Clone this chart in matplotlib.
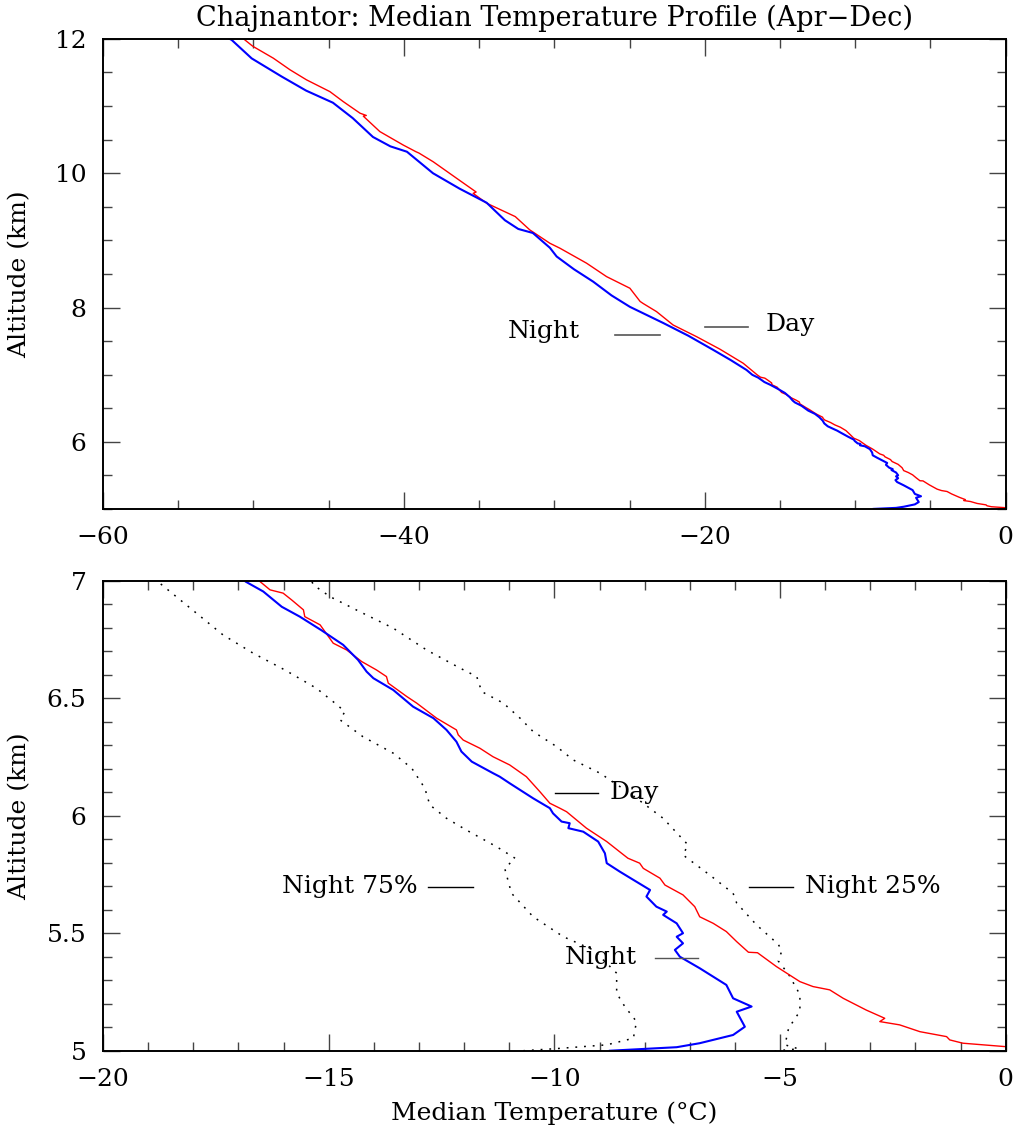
import numpy as np
import matplotlib
matplotlib.use("Agg")
import matplotlib.pyplot as plt
from matplotlib.ticker import MultipleLocator, FormatStrFormatter

# Median night profile (temperature in C, altitude in km)
night_temp = [-8.77, -7.29, -6.78, -6.04, -5.78, -5.96, -5.63, -6.04, -6.19, -6.78,
              -7.22, -7.33, -7.15, -7.29, -7.15, -7.29, -7.59, -7.51, -7.74, -7.96,
              -7.88, -8.25, -8.55, -8.84, -8.88, -9.03, -9.36, -9.69, -9.66, -9.84,
              -10.03, -10.10, -10.25, -10.47, -10.99, -11.21, -11.36, -11.83, -12.06, -12.17,
              -12.39, -12.68, -13.13, -13.57, -14.01, -14.16, -14.35, -14.68, -15.16, -15.64,
              -16.04, -16.45, -16.84, -17.23, -18.30, -19.45, -21.10, -22.77, -24.98, -26.20,
              -27.42, -28.70, -29.85, -30.30, -31.43, -32.40, -33.29, -34.50, -36.30, -38.07,
              -39.80, -40.90, -42.06, -43.40, -44.72, -46.50, -48.13, -50.12, -51.45, -52.00]
night_alt = [5.001, 5.016, 5.033, 5.068, 5.103, 5.167, 5.189, 5.224, 5.281, 5.352,
             5.401, 5.430, 5.458, 5.486, 5.501, 5.543, 5.579, 5.593, 5.614, 5.657,
             5.685, 5.728, 5.763, 5.799, 5.841, 5.891, 5.933, 5.948, 5.969, 5.976,
             6.011, 6.033, 6.050, 6.075, 6.139, 6.167, 6.182, 6.231, 6.274, 6.316,
             6.366, 6.416, 6.465, 6.536, 6.586, 6.614, 6.664, 6.728, 6.790, 6.848,
             6.890, 6.955, 6.997, 7.070, 7.220, 7.370, 7.580, 7.770, 8.010, 8.180,
             8.385, 8.570, 8.760, 8.890, 9.110, 9.170, 9.300, 9.560, 9.770, 10.000,
             10.320, 10.400, 10.540, 10.820, 11.050, 11.230, 11.440, 11.710, 11.985, 12.050]

# Median day profile
day_temp = [0.02, -0.95, -1.24, -1.31, -1.90, -2.35, -2.79, -2.68, -3.09, -3.60,
            -3.90, -4.27, -4.56, -5.08, -5.50, -5.70, -5.96, -6.19, -6.48, -6.78,
            -6.89, -7.15, -7.55, -7.66, -8.03, -8.11, -8.37, -8.51, -8.84, -9.29,
            -9.73, -9.88, -10.10, -10.32, -10.62, -10.99, -11.36, -11.65, -12.02, -12.13,
            -12.17, -12.61, -13.05, -13.27, -13.68, -13.72, -13.94, -14.27, -14.60, -14.90,
            -15.19, -15.53, -15.56, -15.82, -16.01, -16.30, -16.52, -17.45, -19.00, -20.55,
            -22.11, -23.21, -24.10, -24.30, -24.98, -26.53, -27.86, -29.63, -30.30, -31.63,
            -32.60, -34.50, -35.40, -35.20, -36.50, -38.05, -39.00, -39.20, -40.05, -41.60,
            -42.70, -42.50, -42.92, -44.03, -44.92, -46.47, -47.57, -48.68, -50.01, -50.10,
            -50.57, -50.90]
day_alt = [5.018, 5.033, 5.047, 5.061, 5.082, 5.111, 5.125, 5.139, 5.174, 5.224,
           5.260, 5.274, 5.295, 5.359, 5.418, 5.420, 5.465, 5.508, 5.543, 5.571,
           5.614, 5.664, 5.706, 5.735, 5.777, 5.799, 5.820, 5.841, 5.891, 5.948,
           6.018, 6.033, 6.054, 6.103, 6.167, 6.217, 6.252, 6.288, 6.323, 6.345,
           6.366, 6.416, 6.480, 6.508, 6.565, 6.593, 6.621, 6.657, 6.706, 6.735,
           6.813, 6.848, 6.877, 6.919, 6.948, 6.962, 6.997, 7.170, 7.380, 7.566,
           7.740, 7.939, 8.060, 8.090, 8.287, 8.460, 8.660, 8.883, 8.957, 9.155,
           9.354, 9.553, 9.700, 9.720, 9.925, 10.170, 10.300, 10.320, 10.420, 10.620,
           10.850, 10.860, 10.894, 11.066, 11.215, 11.390, 11.540, 11.713, 11.886, 11.900,
           11.985, 12.050]

# Night quartiles (lower panel only)
n75_temp = [-10.69, -9.95, -8.84, -8.25, -8.18, -8.44, -8.62, -8.62, -9.14, -9.80,
            -10.47, -10.95, -11.10, -10.87, -11.28, -11.95, -12.39, -12.76, -12.87, -13.16,
            -13.57, -14.24, -14.75, -14.64, -14.90, -15.27, -15.97, -16.67, -17.34, -18.11,
            -18.74, -18.90]
n75_alt = [5.001, 5.010, 5.026, 5.054, 5.125, 5.189, 5.246, 5.331, 5.430, 5.486,
           5.571, 5.671, 5.777, 5.820, 5.869, 5.940, 5.990, 6.047, 6.118, 6.203,
           6.267, 6.337, 6.409, 6.444, 6.486, 6.543, 6.621, 6.692, 6.770, 6.891,
           6.990, 7.010]

n25_temp = [-5.12, -4.59, -4.89, -4.81, -4.56, -4.56, -4.81, -5.04, -4.96, -5.04,
            -5.52, -5.96, -6.04, -6.56, -7.15, -7.04, -7.59, -8.33, -8.99, -9.58,
            -9.95, -10.47, -10.76, -11.13, -11.61, -11.72, -12.09, -12.83, -13.57, -14.31,
            -14.97, -15.34, -15.40]
n25_alt = [5.000, 5.009, 5.026, 5.097, 5.169, 5.240, 5.326, 5.383, 5.426, 5.454,
           5.536, 5.629, 5.671, 5.749, 5.834, 5.877, 5.990, 6.097, 6.182, 6.238,
           6.295, 6.359, 6.416, 6.480, 6.529, 6.593, 6.629, 6.706, 6.799, 6.869,
           6.933, 6.983, 7.010]

plt.rcParams['font.family'] = 'DejaVu Serif'
plt.rcParams['font.size'] = 18
plt.rcParams['axes.linewidth'] = 1.4

fig = plt.figure(figsize=(10.2, 11.28), dpi=100)
ax1 = fig.add_axes([0.101, 0.5488, 0.885, 0.4167])
ax2 = fig.add_axes([0.101, 0.0683, 0.885, 0.4167])


def style(ax, xmaj, xmin, ymaj, ymin):
    ax.xaxis.set_major_locator(MultipleLocator(xmaj))
    ax.xaxis.set_minor_locator(MultipleLocator(xmin))
    ax.yaxis.set_major_locator(MultipleLocator(ymaj))
    ax.yaxis.set_minor_locator(MultipleLocator(ymin))
    ax.yaxis.set_major_formatter(FormatStrFormatter('%g'))
    ax.tick_params(which='both', direction='in', top=True, right=True,
                   width=1.0, color='#444444', labelsize=18)
    ax.tick_params(which='major', length=12, pad=12)
    ax.tick_params(which='minor', length=6.5)
    ax.set_ylabel("Altitude (km)", fontsize=18)
    ax.yaxis.set_label_coords(-0.079, 0.5)


# Upper panel: full profile
ax1.plot(day_temp, day_alt, color='red', lw=1.0)
ax1.plot(night_temp, night_alt, color='blue', lw=1.5)
ax1.set_xlim(-60, 0)
ax1.set_ylim(5, 12)
style(ax1, 20, 5, 2, 0.5)
ax1.plot([-25.98, -22.99], [7.59, 7.59], color='#555555', lw=1.2)
ax1.text(-28.3, 7.64, "Night", ha='right', va='center', fontsize=18)
ax1.plot([-20.0, -17.14], [7.71, 7.71], color='#555555', lw=1.2)
ax1.text(-15.95, 7.74, "Day", ha='left', va='center', fontsize=18)

# Lower panel: zoom on 5-7 km
ax2.plot(n75_temp, n75_alt, color='black', lw=1.1, ls=(0, (1.2, 4.5)))
ax2.plot(n25_temp, n25_alt, color='black', lw=1.1, ls=(0, (1.2, 4.5)))
ax2.plot(day_temp, day_alt, color='red', lw=1.0)
ax2.plot(night_temp, night_alt, color='blue', lw=1.5)
ax2.set_xlim(-20, 0)
ax2.set_ylim(5, 7)
style(ax2, 5, 1, 0.5, 0.1)
ax2.set_xlabel("Median Temperature (°C)", fontsize=18, labelpad=8)

ax2.plot([-9.99, -9.04], [6.098, 6.098], color='black', lw=1.0)
ax2.text(-8.77, 6.098, "Day", ha='left', va='center', fontsize=18)
ax2.plot([-12.8, -11.8], [5.698, 5.698], color='black', lw=1.0)
ax2.text(-13.02, 5.698, "Night 75%", ha='right', va='center', fontsize=18)
ax2.plot([-5.69, -4.72], [5.698, 5.698], color='black', lw=1.0)
ax2.text(-4.45, 5.698, "Night 25%", ha='left', va='center', fontsize=18)
ax2.plot([-7.77, -6.82], [5.396, 5.396], color='#555555', lw=1.0)
ax2.text(-8.17, 5.396, "Night", ha='right', va='center', fontsize=18)

fig.text(0.544, 1 - 18 / 1128, "Chajnantor: Median Temperature Profile (Apr\u2212Dec)",
         ha='center', va='center', fontsize=19.5)

fig.savefig("out.png", dpi=100)
